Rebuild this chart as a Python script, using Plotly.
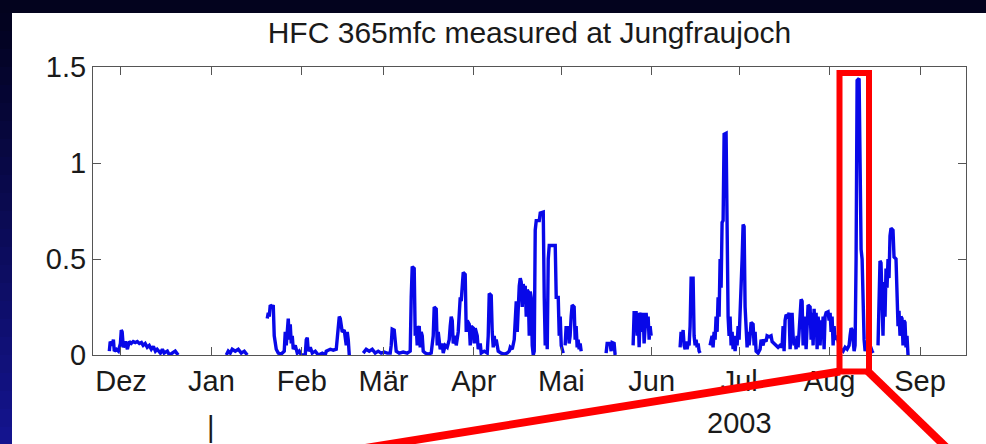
import plotly.graph_objects as go
import pandas as pd

# ---------------- data ----------------
title_text = "HFC 365mfc measured at Jungfraujoch"
ref_date = "2002-12-01"

# time in days since 2002-12-01 ; None in values marks a gap in the record
day_offsets = [
    # late Nov / Dec
    -4.0, -3.7, -3.0, -2.6, -2.3, -1.6, -0.9, -0.2, 0.1, 0.4, 0.8, 1.5, 2.2, 2.8, 3.5, 4.2, 4.9, 5.6,
    6.3, 7.0, 7.6, 8.3, 9.0, 9.7, 10.4, 11.1, 11.8, 12.4, 13.5, 14.2, 14.8, 15.9, 16.6, 17.6, 18.6, 19.6,
    28.0,
    # Jan
    36.1, 36.78, 37.47, 38.15, 39.18, 40.21, 41.24, 42.27, 43.3,
    47.0,
    # Feb
    50.15, 50.5, 50.84, 51.18, 51.87, 52.21, 52.55, 52.9, 53.24, 53.93, 54.95, 55.98, 56.33, 56.67,
    57.01, 57.36, 57.7, 58.04, 58.39, 58.73, 59.07, 59.76, 60.45, 61.13, 61.82, 63.19, 63.53, 63.88,
    64.22, 64.91, 65.59, 66.62, 67.65, 69.02, 70.05, 70.39, 71.76, 72.79, 73.82, 74.5, 74.85, 75.19,
    75.53, 75.87, 76.56, 77.25, 77.59, 77.93, 78.28,
    80.5,
    # Mar - May
    83.06, 84.09, 85.12, 86.15, 87.17, 88.2, 89.23, 90.26, 91.29, 92.32, 92.66, 93.0, 93.69, 94.03,
    94.38, 95.41, 96.78, 98.15, 99.18, 99.52, 99.87, 100.55, 100.89, 101.24, 101.58, 101.92, 102.27,
    102.61, 102.95, 103.3, 103.64, 104.32, 105.35, 106.38, 107.07, 107.41, 108.1, 108.44, 108.78,
    109.47, 110.15, 110.5, 111.18, 111.87, 112.56, 112.9, 113.24, 113.59, 113.93, 114.62, 114.96,
    115.64, 115.99, 116.33, 116.67, 117.02, 117.36, 118.04, 118.39, 118.73, 119.42, 119.76, 120.1,
    120.79, 121.13, 121.47, 122.16, 122.5, 123.19, 123.53, 124.56, 125.59, 125.93, 126.28, 126.96,
    127.3, 127.65, 127.99, 128.33, 128.67, 129.36, 130.39, 131.42, 132.45, 133.14, 133.48, 134.17,
    134.85, 135.19, 135.54, 135.88, 136.22, 136.57, 136.91, 137.25, 137.6, 137.94, 138.28, 138.62,
    138.97, 139.31, 139.65, 140.0, 140.34, 140.68, 141.02, 141.37, 141.71, 142.05, 142.4, 143.43,
    143.77, 144.8, 145.14, 145.48, 145.83, 146.17, 146.51, 146.85, 148.91, 149.25, 149.94, 150.28,
    150.62, 150.97, 151.65,
    152.0,
    # May
    152.31, 152.65, 153.0, 153.34, 153.68, 154.02, 154.37, 154.71, 155.4, 155.74, 156.08, 156.43,
    156.77, 157.11, 157.45, 157.8,
    162.0,
    166.36, 166.71, 167.73, 168.08, 168.42, 169.11, 169.45,
    172.5,
    # June
    175.62, 175.96, 176.65, 176.99, 177.33, 177.68, 178.02, 178.36, 178.71, 179.05, 179.39, 179.74,
    180.08, 180.42, 180.77, 181.11, 181.45, 181.79,
    186.0,
    191.73, 192.07, 192.42, 192.76, 193.1, 193.45, 193.79, 194.13, 194.48, 194.82, 195.16, 195.51,
    196.19, 196.53, 196.88, 197.22, 197.56, 197.91, 198.25, 198.59,
    200.3,
    # July - Aug
    202.01, 202.7, 203.04, 203.39, 203.73, 204.07, 204.42, 204.76, 205.1, 205.45, 205.79, 206.13,
    206.48, 206.82, 207.5, 207.85, 208.19, 208.53, 208.87, 209.22, 209.56, 209.9, 210.25, 210.59,
    210.93, 211.28, 211.62, 211.96, 212.3, 212.65, 212.99, 213.33, 213.68, 214.02, 214.36, 214.71,
    215.05, 215.39, 215.73, 216.08, 216.76, 217.11, 217.45, 217.79, 218.48, 219.16, 219.51, 220.19,
    220.53, 221.22, 221.56, 222.25, 222.93, 223.28, 223.96, 224.65, 225.33, 226.02, 226.7, 227.05,
    227.39, 227.73, 228.08, 228.76, 229.1, 229.45, 229.79, 230.13, 230.48, 230.82, 231.16, 231.51,
    231.85, 232.19, 232.54, 232.88, 233.22, 233.57, 233.91, 234.25, 234.59, 234.94, 235.28, 235.62,
    236.31, 236.65, 236.99, 237.34, 237.68, 238.02, 238.37, 238.71, 239.05, 239.4, 239.74, 240.08,
    240.42, 240.77, 241.11, 241.45, 241.8, 242.48, 242.83, 243.17, 243.51, 243.85, 244.2, 244.54,
    244.88, 245.57, 246.25, 246.94, 247.63, 248.31, 249.0, 249.68, 250.02, 250.37, 250.71, 251.05,
    251.4, 251.74, 252.08, 252.43, 253.11, 253.45, 253.8, 254.14, 254.48, 254.83, 255.17, 255.51,
    256.2, 256.88, 257.57, 257.91,
    258.8,
    # late Aug
    259.6, 259.94, 260.28, 260.63, 260.97, 261.31, 261.66, 262.0, 262.34, 262.69, 263.03, 263.37,
    263.71, 264.06, 264.74, 265.09, 265.77, 266.11, 266.46, 266.8, 267.14, 267.49, 267.83, 268.17,
    268.51, 268.86, 269.2, 269.54, 269.89,
]

hfc_values = [
    0.02, 0.07, 0.05, 0.08, 0.02, 0.03, 0.02, 0.06, 0.13, 0.12, 0.04, 0.07, 0.03, 0.07, 0.06, 0.07, 0.065, 0.07,
    0.06, 0.065, 0.05, 0.06, 0.04, 0.05, 0.03, 0.045, 0.02, 0.03, 0.01, 0.03, 0.01, 0.02, 0.0, 0.01, 0.02, 0.0,
    None,
    0.0, 0.02, 0.01, 0.03, 0.02, 0.03, 0.01, 0.02, 0.0,
    None,
    0.19, 0.22, 0.20, 0.26, 0.25, 0.26, 0.10, 0.05, 0.03, 0.01, 0.005, 0.02, 0.12, 0.05,
    0.15, 0.19, 0.08, 0.16, 0.06, 0.10, 0.03, 0.05, 0.01, 0.02, 0.0, 0.0, 0.08, 0.09,
    0.02, 0.04, 0.01, 0.02, 0.0, 0.01, 0.0, 0.02, 0.03, 0.025, 0.03, 0.12, 0.20, 0.19,
    0.14, 0.12, 0.13, 0.05, 0.12, 0.08, 0.0,
    None,
    0.01, 0.03, 0.02, 0.03, 0.01, 0.02, 0.01, 0.015, 0.01, 0.01, 0.05, 0.135, 0.13, 0.06,
    0.02, 0.01, 0.015, 0.01, 0.02, 0.30, 0.46, 0.45, 0.10, 0.15, 0.05, 0.14, 0.15,
    0.04, 0.12, 0.10, 0.02, 0.01, 0.005, 0.01, 0.10, 0.25, 0.24, 0.05, 0.12,
    0.03, 0.06, 0.01, 0.05, 0.04, 0.08, 0.15, 0.20, 0.18, 0.06, 0.10, 0.05,
    0.12, 0.25, 0.30, 0.28, 0.38, 0.43, 0.42, 0.12, 0.18, 0.16, 0.05, 0.15,
    0.14, 0.06, 0.14, 0.10, 0.03, 0.06, 0.01, 0.02, 0.01, 0.10, 0.32, 0.31,
    0.12, 0.04, 0.10, 0.05, 0.08, 0.02, 0.01, 0.005, 0.01, 0.02, 0.04, 0.03,
    0.08, 0.22, 0.28, 0.12, 0.30, 0.36, 0.40, 0.38, 0.25, 0.37, 0.33, 0.36,
    0.20, 0.34, 0.33, 0.10, 0.33, 0.30, 0.05, 0.0, 0.02, 0.65, 0.70, 0.70,
    0.74, 0.745, 0.30, 0.05, 0.20, 0.03, 0.50, 0.57, 0.57, 0.30, 0.30, 0.10,
    0.20, 0.05, 0.01,
    None,
    0.05, 0.15, 0.12, 0.15, 0.06, 0.10, 0.20, 0.26, 0.25, 0.08, 0.15, 0.04,
    0.08, 0.03, 0.06, 0.02,
    None,
    0.01, 0.06, 0.06, 0.02, 0.065, 0.06, 0.0,
    None,
    0.05, 0.22, 0.22, 0.10, 0.22, 0.04, 0.20, 0.22, 0.12, 0.22, 0.06, 0.18,
    0.22, 0.15, 0.20, 0.08, 0.15, 0.10,
    None,
    0.04, 0.12, 0.08, 0.13, 0.05, 0.03, 0.07, 0.03, 0.06, 0.05, 0.15, 0.40,
    0.40, 0.10, 0.05, 0.08, 0.04, 0.06, 0.02, 0.01,
    None,
    0.05, 0.10, 0.04, 0.12, 0.08, 0.20, 0.12, 0.30, 0.20, 0.50, 0.35, 0.69,
    0.70, 1.15, 1.155, 0.60, 0.20, 0.10, 0.20, 0.05, 0.12, 0.03, 0.10, 0.02,
    0.08, 0.05, 0.15, 0.08, 0.20, 0.37, 0.50, 0.68, 0.67, 0.25, 0.10, 0.04,
    0.12, 0.05, 0.10, 0.17, 0.16, 0.05, 0.12, 0.02, 0.01, 0.03, 0.08, 0.05,
    0.08, 0.07, 0.10, 0.095, 0.10, 0.07, 0.06, 0.05, 0.04, 0.05, 0.04, 0.15,
    0.02, 0.18, 0.21, 0.20, 0.22, 0.03, 0.18, 0.22, 0.10, 0.05, 0.08, 0.03,
    0.10, 0.04, 0.12, 0.20, 0.29, 0.28, 0.05, 0.20, 0.15, 0.03, 0.15, 0.26,
    0.25, 0.08, 0.22, 0.05, 0.24, 0.12, 0.22, 0.03, 0.20, 0.15, 0.05, 0.18,
    0.10, 0.20, 0.03, 0.20, 0.22, 0.225, 0.18, 0.22, 0.12, 0.20, 0.05, 0.15,
    0.08, 0.10, 0.05, 0.03, 0.02, 0.04, 0.03, 0.05, 0.10, 0.14, 0.13, 0.05,
    0.02, 0.05, 0.50, 1.43, 1.44, 1.00, 0.55, 0.50, 0.15, 0.08, 0.02, 0.06,
    0.04, 0.05, 0.02, 0.01,
    None,
    0.05, 0.30, 0.49, 0.48, 0.30, 0.10, 0.38, 0.20, 0.45, 0.35, 0.50, 0.40,
    0.62, 0.66, 0.65, 0.51, 0.50, 0.25, 0.15, 0.23, 0.10, 0.20, 0.19, 0.05,
    0.18, 0.17, 0.04, 0.10, 0.0,
]

month_ticks = ["2002-12-01", "2003-01-01", "2003-02-01", "2003-03-01", "2003-04-01",
               "2003-05-01", "2003-06-01", "2003-07-01", "2003-08-01", "2003-09-01"]
month_labels = ["Dez", "Jan", "Feb", "Mär", "Apr", "Mai", "Jun", "Jul", "Aug", "Sep"]
x_range = ["2002-11-21 09:36", "2003-09-16 18:30"]
y_ticks = [0, 0.5, 1, 1.5]
y_labels = ["0", "0.5", "1", "1.5"]
year_label = "2003"
year_label_pos = "2003-07-01"
bar_label_pos = "2003-01-01"

# ---------------- figure ----------------
times = pd.Timestamp(ref_date) + pd.to_timedelta(pd.Series(day_offsets, dtype=float), unit="D")

W, H = 986, 444
L, R, T, B = 93, 966, 67, 355   # plot box in pixels


def px(xpix):
    return (xpix - L) / (R - L)


def py(ypix):
    return (B - ypix) / (B - T)


FONT = "Liberation Sans, Arial, Helvetica, sans-serif"

fig = go.Figure()
fig.add_trace(go.Scatter(
    x=times, y=hfc_values, mode="lines",
    line=dict(color="rgb(8,8,232)", width=3.4),
    connectgaps=False, hoverinfo="skip", showlegend=False,
))

shapes = []
# white slide panel
shapes.append(dict(type="rect", xref="paper", yref="paper", layer="below",
                   x0=px(12), x1=px(1000), y0=py(13), y1=py(460),
                   fillcolor="white", line=dict(width=0)))
# left gradient band of the slide background
n = 24
for i in range(n):
    f = i / (n - 1)
    r = int(3 + 17 * f)
    b = int(32 + 110 * f)
    shapes.append(dict(type="rect", xref="paper", yref="paper", layer="below",
                       x0=px(0), x1=px(12), y0=py(13 + i * 432 / n), y1=py(13 + (i + 1) * 432 / n),
                       fillcolor=f"rgb({r},{r},{b})", line=dict(width=0)))
# red highlight box and zoom lines
RED = "rgb(255,0,0)"
shapes.append(dict(type="rect", xref="paper", yref="paper",
                   x0=px(839.5), x1=px(869), y0=py(371.5), y1=py(73),
                   line=dict(color=RED, width=6), fillcolor="rgba(0,0,0,0)"))
shapes.append(dict(type="line", xref="paper", yref="paper",
                   x0=px(840), y0=py(371.5), x1=px(353), y1=py(450),
                   line=dict(color=RED, width=8)))
shapes.append(dict(type="line", xref="paper", yref="paper",
                   x0=px(868), y0=py(371.5), x1=px(949), y1=py(450),
                   line=dict(color=RED, width=8)))

axis_common = dict(showline=True, linecolor="#555555", linewidth=1.2, mirror="ticks",
                   ticks="inside", ticklen=8, tickcolor="#555555", tickwidth=1.2,
                   showgrid=False, zeroline=False,
                   tickfont=dict(family=FONT, size=29, color="#1a1a1a"))

fig.update_layout(
    width=W, height=H, autosize=False,
    margin=dict(l=L, r=W - R, t=T, b=H - B),
    paper_bgcolor="rgb(3,3,30)",
    plot_bgcolor="white",
    title=dict(text=title_text, x=0.5, xref="paper", xanchor="center",
               y=1 - 32 / H, yref="container", yanchor="middle",
               font=dict(family=FONT, size=30, color="#1a1a1a")),
    xaxis=dict(type="date", range=x_range, tickmode="array",
               tickvals=month_ticks, ticktext=month_labels, **axis_common),
    yaxis=dict(range=[0, 1.5], tickmode="array", tickvals=y_ticks, ticktext=y_labels,
               **axis_common),
    shapes=shapes,
    annotations=[
        dict(text=year_label, x=year_label_pos, xref="x", y=py(423), yref="paper",
             showarrow=False, xanchor="center", yanchor="middle",
             font=dict(family=FONT, size=29, color="#1a1a1a")),
        dict(text="|", x=bar_label_pos, xref="x", y=py(427), yref="paper",
             showarrow=False, xanchor="center", yanchor="middle",
             font=dict(family=FONT, size=29, color="#1a1a1a")),
    ],
)

fig.write_html(
    "out.html",
    config={"displayModeBar": False},
    post_script="document.body.style.margin='0';document.body.style.overflow='hidden';",
)
